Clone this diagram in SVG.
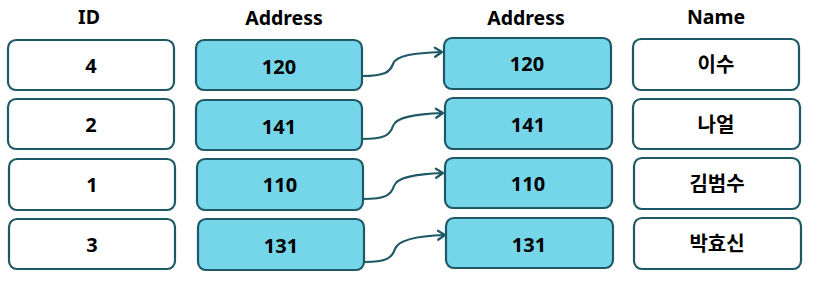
<svg xmlns="http://www.w3.org/2000/svg" width="832" height="290" viewBox="0 0 832 290">
<style>
.w{fill:#ffffff;stroke:#1E5865;stroke-width:2.2}
.c{fill:#76D6E9;stroke:#1E5865;stroke-width:2.2}
text{font-family:"Noto Sans","Noto Sans CJK KR",sans-serif;font-weight:bold;font-size:20px;fill:#000;text-anchor:middle}
.h{font-size:19.5px}
.conn{fill:none;stroke:#1E5865;stroke-width:2.2}
</style>
<defs>
<marker id="arr" markerWidth="12" markerHeight="12" refX="10" refY="6" orient="auto" markerUnits="userSpaceOnUse">
<path d="M3,1.5 L10,6 L3,10.5" fill="none" stroke="#1E5865" stroke-width="2.2" stroke-linecap="round" stroke-linejoin="round"/>
</marker>
</defs>
<g id="headers">
<text class="h" x="89" y="24">ID</text>
<text class="h" x="284" y="25">Address</text>
<text class="h" x="526" y="25">Address</text>
<text class="h" x="716" y="24">Name</text>
</g>
<g id="id-4"><rect class="w" x="8" y="40" width="166" height="50" rx="8"/><text x="91" y="73">4</text></g>
<g id="id-2"><rect class="w" x="8" y="99" width="166" height="50" rx="8"/><text x="91" y="132">2</text></g>
<g id="id-1"><rect class="w" x="9" y="159" width="166" height="51" rx="8"/><text x="92" y="192">1</text></g>
<g id="id-3"><rect class="w" x="9" y="219" width="166" height="50" rx="8"/><text x="92" y="252">3</text></g>

<g id="addr1-120"><rect class="c" x="196" y="40" width="166" height="50" rx="8"/><text x="279" y="74">120</text></g>
<g id="addr1-141"><rect class="c" x="196" y="100" width="166" height="50" rx="8"/><text x="279" y="134">141</text></g>
<g id="addr1-110"><rect class="c" x="197" y="159" width="166" height="51" rx="8"/><text x="280" y="192">110</text></g>
<g id="addr1-131"><rect class="c" x="198" y="219" width="166" height="51" rx="8"/><text x="281" y="253">131</text></g>

<g id="addr2-120"><rect class="c" x="444" y="38" width="167" height="51" rx="8"/><text x="527" y="71">120</text></g>
<g id="addr2-141"><rect class="c" x="445" y="98" width="167" height="51" rx="8"/><text x="528" y="132">141</text></g>
<g id="addr2-110"><rect class="c" x="445" y="158" width="167" height="50" rx="8"/><text x="528" y="191">110</text></g>
<g id="addr2-131"><rect class="c" x="446" y="218" width="167" height="50" rx="8"/><text x="529" y="252">131</text></g>

<g id="name-1"><rect class="w" x="633" y="39" width="166" height="51" rx="8"/><text x="716" y="72">이수</text></g>
<g id="name-2"><rect class="w" x="633" y="99" width="167" height="50" rx="8"/><text x="716" y="132">나얼</text></g>
<g id="name-3"><rect class="w" x="634" y="158" width="166" height="51" rx="8"/><text x="717" y="191">김범수</text></g>
<g id="name-4"><rect class="w" x="634" y="218" width="167" height="51" rx="8"/><text x="717" y="251">박효신</text></g>

<g id="connectors">
<path class="conn" marker-end="url(#arr)" d="M362,76 C385,76 390,72 393,64 C396,55 415,53 442,52"/>
<path class="conn" marker-end="url(#arr)" d="M362,139 C385,139 390,135 393,126 C396,117 415,114 443,113"/>
<path class="conn" marker-end="url(#arr)" d="M363,199 C386,199 391,195 394,186 C397,177 416,174 443,173"/>
<path class="conn" marker-end="url(#arr)" d="M364,262 C387,262 392,258 395,249 C398,240 417,236 445,235"/>
</g>
</svg>
